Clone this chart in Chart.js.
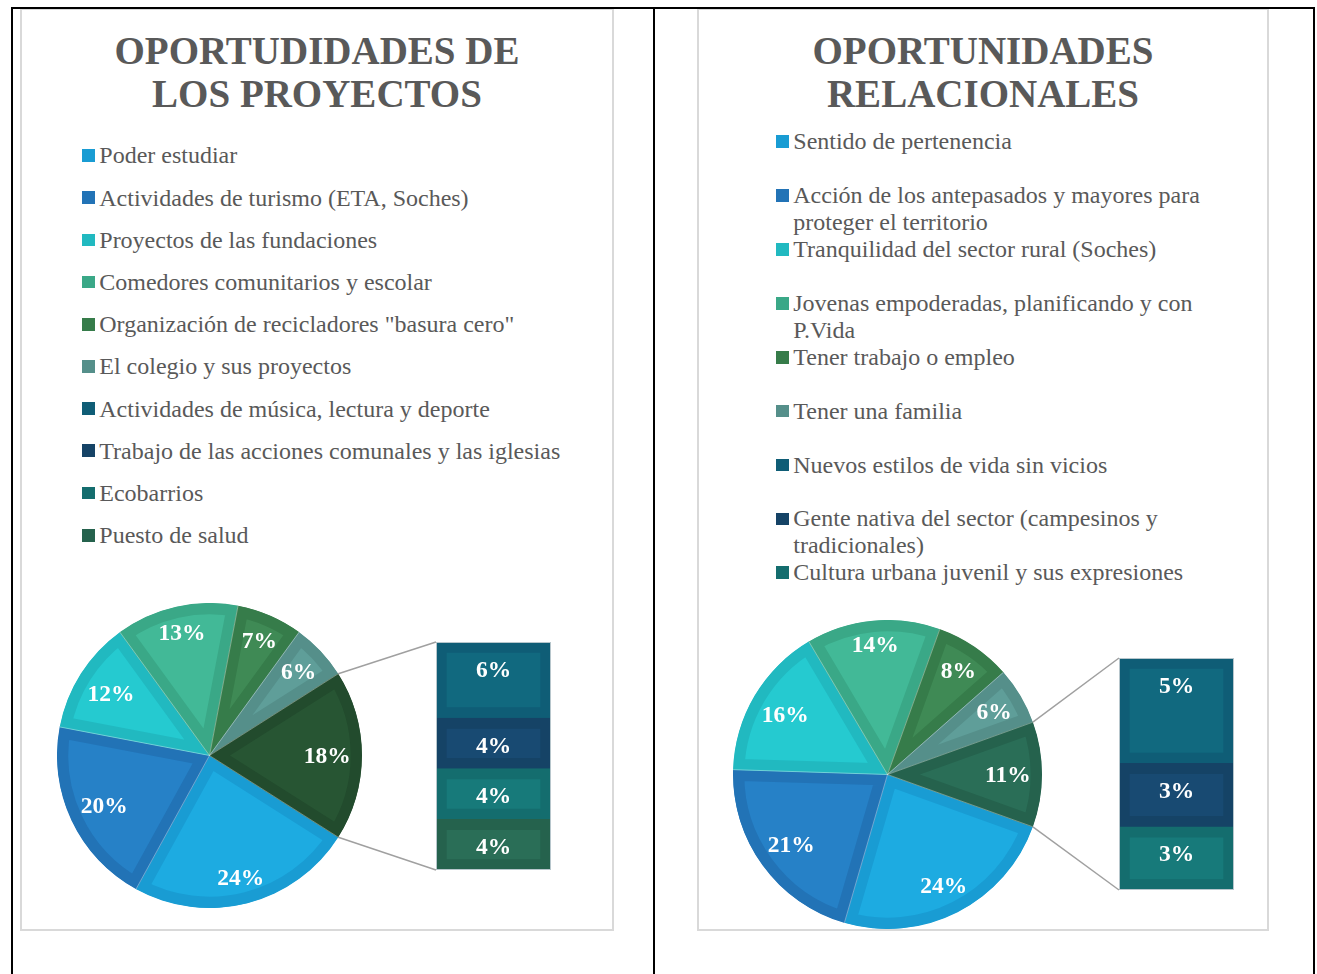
<!DOCTYPE html>
<html lang="es">
<head>
<meta charset="utf-8">
<title>Oportunidades</title>
<script src="https://cdn.jsdelivr.net/npm/chart.js@4.4.1/dist/chart.umd.min.js"></script>
<style>
    html, body { margin: 0; padding: 0; background: #fff; }
    body {
        position: relative;
        width: 1317px;
        height: 974px;
        overflow: hidden;
        font-family: "Liberation Serif", "Times New Roman", serif;
        color: #595959;
    }
    .panel {
        position: absolute;
        box-sizing: border-box;
        border: 2px solid #d9d9d9;
        background: #fff;
    }
    .rule { position: absolute; background: #000; }
    .title {
        position: absolute;
        width: 460px;
        text-align: center;
        font-weight: bold;
        font-size: 39px;
        line-height: 43px;
    }
    .legend { position: absolute; font-size: 24px; }
    .legend .item { display: flex; }
    .legend .box { flex: none; width: 12.7px; height: 12.7px; margin-right: 4.6px; }
    canvas { position: absolute; }
</style>
</head>
<body>

<div class="panel" style="left:20px; top:8px; width:594px; height:923px;"></div>
<div class="panel" style="left:697px; top:8px; width:572px; height:923px;"></div>

<div class="rule" style="left:11px; top:7px; width:1304px; height:2px;"></div>
<div class="rule" style="left:11px; top:7px; width:2px; height:967px;"></div>
<div class="rule" style="left:653px; top:7px; width:2px; height:967px;"></div>
<div class="rule" style="left:1313px; top:7px; width:2px; height:967px;"></div>

<div class="title" id="titleLeft" style="left:87px; top:28.5px;"></div>
<div class="title" id="titleRight" style="left:753px; top:28.5px;"></div>

<div class="legend" id="legendLeft" style="left:82px; top:134.4px;"></div>
<div class="legend" id="legendRight" style="left:776px; top:128.2px;"></div>

<canvas id="pieLeft" width="305" height="305" style="left:57px; top:603px;"></canvas>
<canvas id="barLeft" width="253" height="232" style="left:300px; top:640px;"></canvas>
<canvas id="pieRight" width="309" height="309" style="left:733px; top:620px;"></canvas>
<canvas id="barRight" width="236" height="236" style="left:1000px; top:656px;"></canvas>

<script>
// ============================================
// DATA
// ============================================
const proyectosTitle = 'OPORTUDIDADES DE LOS PROYECTOS';
const proyectosLabels = [
    'Poder estudiar',
    'Actividades de turismo (ETA, Soches)',
    'Proyectos de las fundaciones',
    'Comedores comunitarios y escolar',
    'Organización de recicladores "basura cero"',
    'El colegio y sus proyectos',
    'Actividades de música, lectura y deporte',
    'Trabajo de las acciones comunales y las iglesias',
    'Ecobarrios',
    'Puesto de salud'
];
const proyectosValues = [24, 20, 12, 13, 7, 6, 6, 4, 4, 4];
const proyectosInBar = 4;   // last items go to the secondary bar

const relacionalesTitle = 'OPORTUNIDADES RELACIONALES';
const relacionalesLabels = [
    'Sentido de pertenencia',
    'Acción de los antepasados y mayores para proteger el territorio',
    'Tranquilidad del sector rural (Soches)',
    'Jovenas empoderadas, planificando y con P.Vida',
    'Tener trabajo o empleo',
    'Tener una familia',
    'Nuevos estilos de vida sin vicios',
    'Gente nativa del sector (campesinos y tradicionales)',
    'Cultura urbana juvenil y sus expresiones'
];
const relacionalesValues = [24, 21, 16, 14, 8, 6, 5, 3, 3];
const relacionalesInBar = 3;

// ============================================
// STYLE (Excel palette: fill + darker inner band)
// ============================================
const fillColors = ['#1dabe1', '#2681c7', '#25cad0', '#42b997', '#3f8a55', '#5f9e99',
                    '#11697f', '#184a72', '#177a7a', '#2a6e57', '#275533'];
const bandColors = ['#199cd3', '#2273b6', '#21b9c0', '#3aa887', '#367c4a', '#558f8a',
                    '#0f5d76', '#154366', '#146d6e', '#25624d', '#224b2d'];
const LABEL_SIZE = 23.5;
const LABEL_FONT = `bold ${LABEL_SIZE}px "Liberation Serif", "Times New Roman", serif`;
const BAND = 11;

// ============================================
// PLUGINS
// ============================================
// "best fit" style: push the label out along the mid angle until its box
// touches a circle a bit inside the pie edge
const pieLabels = {
    id: 'pieLabels',
    afterDatasetsDraw(chart) {
        const ctx = chart.ctx;
        const values = chart.data.datasets[0].data;
        const arcs = chart.getDatasetMeta(0).data;
        ctx.save();

        // faint separators between slices
        ctx.strokeStyle = 'rgba(255,255,255,0.45)';
        ctx.lineWidth = 0.8;
        arcs.forEach(arc => {
            ctx.beginPath();
            ctx.moveTo(arc.x, arc.y);
            ctx.lineTo(arc.x + Math.cos(arc.startAngle) * arc.outerRadius,
                       arc.y + Math.sin(arc.startAngle) * arc.outerRadius);
            ctx.stroke();
        });

        ctx.font = LABEL_FONT;
        ctx.fillStyle = '#fff';
        ctx.textAlign = 'center';
        ctx.textBaseline = 'alphabetic';
        const capHalf = LABEL_SIZE * 0.33;
        arcs.forEach((arc, i) => {
            const text = values[i] + '%';
            const halfW = ctx.measureText(text).width / 2;
            const halfH = LABEL_SIZE * 0.38;
            const mid = (arc.startAngle + arc.endAngle) / 2;
            const c = Math.abs(Math.cos(mid)), s = Math.abs(Math.sin(mid));
            const R = arc.outerRadius - 11;
            const b = c * halfW + s * halfH;
            const t = -b + Math.sqrt(b * b - (halfW * halfW + halfH * halfH) + R * R);
            ctx.fillText(text, arc.x + Math.cos(mid) * t, arc.y + Math.sin(mid) * t + capHalf);
        });
        ctx.restore();
    }
};

const barLabels = {
    id: 'barLabels',
    afterDatasetsDraw(chart) {
        const ctx = chart.ctx;
        ctx.save();
        ctx.font = LABEL_FONT;
        ctx.fillStyle = '#fff';
        ctx.textAlign = 'center';
        ctx.textBaseline = 'alphabetic';
        chart.data.datasets.forEach((ds, i) => {
            const bar = chart.getDatasetMeta(i).data[0];
            const top = Math.min(bar.y, bar.base);
            ctx.fillText(ds.data[0] + '%', bar.x, top + 27 + LABEL_SIZE * 0.33);
        });
        ctx.restore();
    }
};

// lines from the "other" slice of the pie to the bar corners
function connectorPlugin(pie) {
    return {
        id: 'connectors',
        afterDraw(chart) {
            const arcs = pie.getDatasetMeta(0).data;
            const other = arcs[arcs.length - 1];
            const pr = pie.canvas.getBoundingClientRect();
            const br = chart.canvas.getBoundingClientRect();
            const ox = pr.left - br.left, oy = pr.top - br.top;

            const last = chart.data.datasets.length - 1;
            const topBar = chart.getDatasetMeta(last).data[0];
            const botBar = chart.getDatasetMeta(0).data[0];
            const left = topBar.x - topBar.width / 2;

            const ctx = chart.ctx;
            ctx.save();
            // thin outline round the whole bar
            ctx.strokeStyle = '#b7c6cc';
            ctx.lineWidth = 1;
            ctx.strokeRect(left + 0.5, topBar.y + 0.5, topBar.width - 1, botBar.base - topBar.y - 1);

            ctx.strokeStyle = '#a0a0a0';
            ctx.lineWidth = 1.5;
            [[other.startAngle, topBar.y], [other.endAngle, botBar.base]].forEach(([a, y]) => {
                ctx.beginPath();
                ctx.moveTo(ox + other.x + Math.cos(a) * other.outerRadius,
                           oy + other.y + Math.sin(a) * other.outerRadius);
                ctx.lineTo(left, y);
                ctx.stroke();
            });
            ctx.restore();
        }
    };
}

// ============================================
// BUILDERS
// ============================================
function renderLegend(el, labels, wrapWidth, itemHeight, lineHeight) {
    el.innerHTML = labels.map((label, i) => `
        <div class="item" style="height:${itemHeight}px; line-height:${lineHeight}px;">
            <span class="box" style="background:${bandColors[i]}; margin-top:${(lineHeight - 12.7) / 2}px;"></span>
            <span style="width:${wrapWidth}px;">${label}</span>
        </div>
    `).join('');
}

function renderPanel(prefix, labels, values, inBar) {
    const mainCount = labels.length - inBar;
    const otherValue = values.slice(mainCount).reduce((s, v) => s + v, 0);
    const total = values.reduce((s, v) => s + v, 0);

    const pieData = values.slice(0, mainCount).concat(otherValue);
    const pieFill = fillColors.slice(0, mainCount).concat(fillColors[labels.length]);
    const pieBand = bandColors.slice(0, mainCount).concat(bandColors[labels.length]);

    const pie = new Chart(document.getElementById('pie' + prefix), {
        type: 'pie',
        data: {
            labels: labels.slice(0, mainCount).concat('Otro'),
            datasets: [{
                data: pieData,
                backgroundColor: pieFill,
                borderColor: pieBand,
                borderWidth: BAND,
                borderAlign: 'inner',
                borderJoinStyle: 'miter',
                hoverOffset: 0
            }]
        },
        options: {
            responsive: false,
            animation: false,
            events: [],
            rotation: 90 + (otherValue / total) * 180,
            plugins: { legend: { display: false }, tooltip: { enabled: false } }
        },
        plugins: [pieLabels]
    });

    // stacked bar: first dataset is drawn at the bottom, so reverse
    const barIdx = [];
    for (let i = labels.length - 1; i >= mainCount; i--) barIdx.push(i);

    const barCanvas = document.getElementById('bar' + prefix);
    new Chart(barCanvas, {
        type: 'bar',
        data: {
            labels: [''],
            datasets: barIdx.map(i => ({
                label: labels[i],
                data: [values[i]],
                backgroundColor: fillColors[i],
                borderColor: bandColors[i],
                borderWidth: BAND,
                borderSkipped: false,
                barPercentage: 1,
                categoryPercentage: 1
            }))
        },
        options: {
            responsive: false,
            animation: false,
            events: [],
            layout: { padding: { left: barCanvas.width - 117, right: 2, top: 2, bottom: 2 } },
            scales: {
                x: { display: false, stacked: true },
                y: { display: false, stacked: true, min: 0, max: otherValue }
            },
            plugins: { legend: { display: false }, tooltip: { enabled: false } }
        },
        plugins: [barLabels, connectorPlugin(pie)]
    });
}

// ============================================
// INIT
// ============================================
document.getElementById('titleLeft').textContent = proyectosTitle;
document.getElementById('titleRight').textContent = relacionalesTitle;

renderLegend(document.getElementById('legendLeft'), proyectosLabels, 500, 42.2, 42.2);
renderLegend(document.getElementById('legendRight'), relacionalesLabels, 420, 53.9, 26.95);

renderPanel('Left', proyectosLabels, proyectosValues, proyectosInBar);
renderPanel('Right', relacionalesLabels, relacionalesValues, relacionalesInBar);
</script>
</body>
</html>
